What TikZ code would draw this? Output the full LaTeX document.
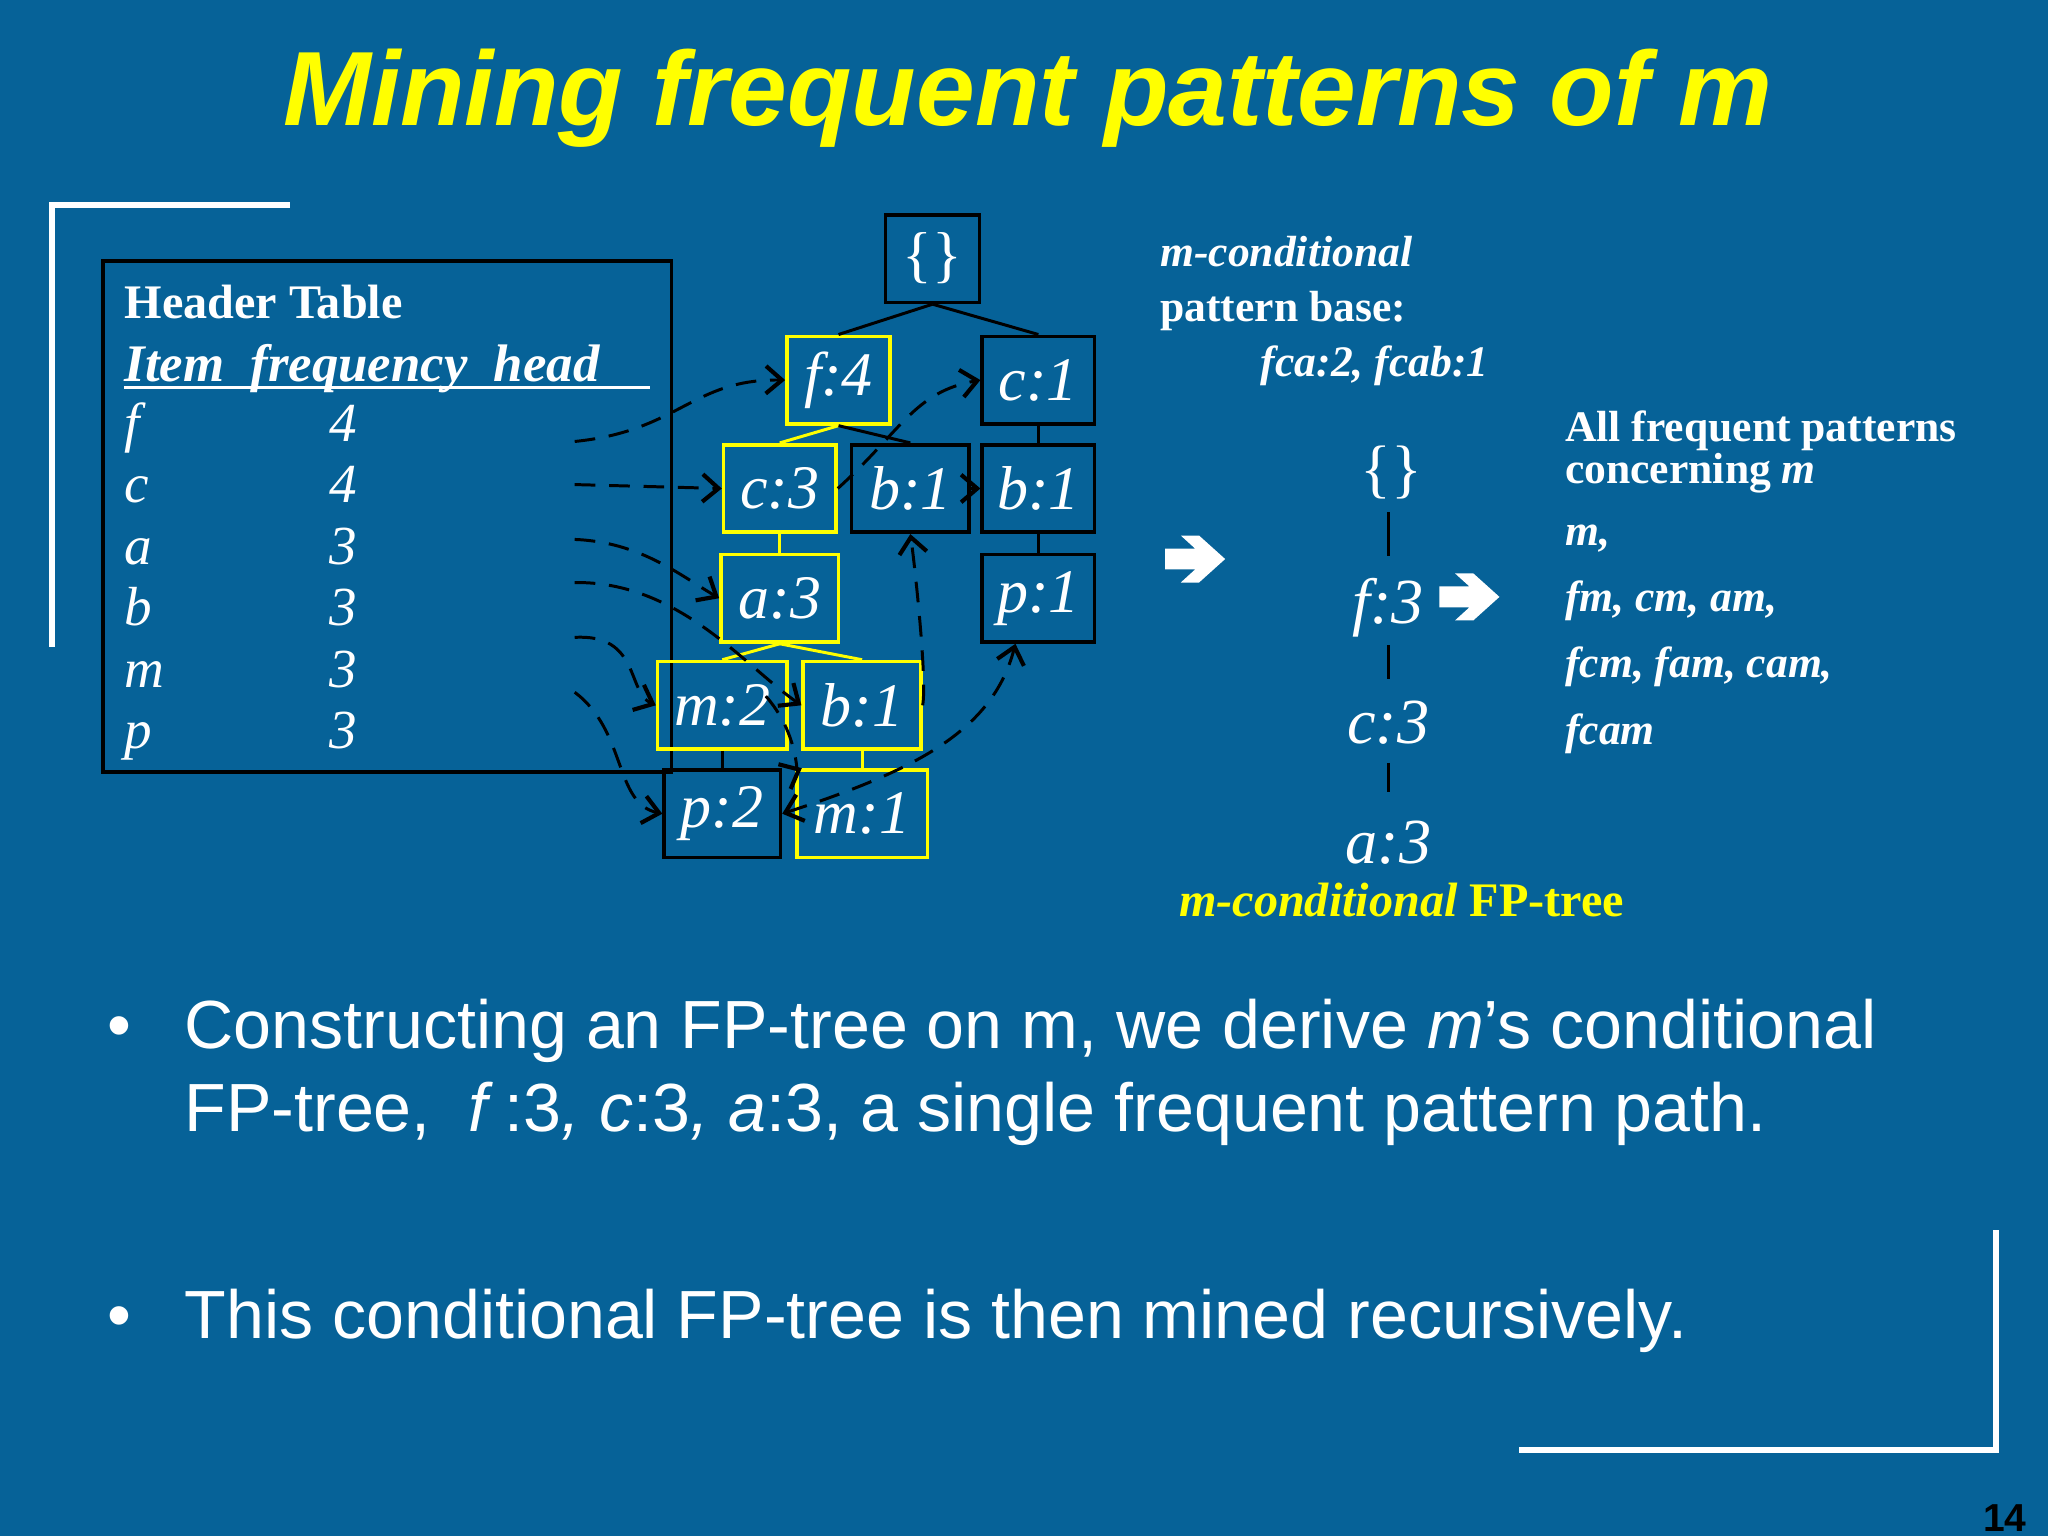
\documentclass[tikz,border=0pt]{standalone}
\usepackage{fontspec}
\setmainfont{Liberation Serif}
\setsansfont{Liberation Sans}
\usetikzlibrary{arrows.meta}
\definecolor{bg}{RGB}{6,98,152}
\definecolor{yel}{RGB}{255,255,0}
\begin{document}
\begin{tikzpicture}[x=0.02cm,y=-0.02cm,
  tn/.style={draw=#1,line width=1.6pt,minimum width=1.72cm,minimum height=1.34cm,inner sep=0pt,text=white,font=\fontsize{27}{27}\selectfont\itshape},
  ye/.style={yel,line width=1.3pt},
  bk/.style={black,line width=1.3pt},
  lk/.style={black,dashed,dash pattern=on 9pt off 6pt,line width=1.3pt,-{Straight Barb[length=7pt,width=12pt,line width=1.8pt]}},
  ht/.style={anchor=base west,text=white,font=\fontsize{24}{24}\selectfont\itshape,inner sep=0pt},
  rt/.style={anchor=base west,text=white,font=\fontsize{19}{19}\selectfont\bfseries,inner sep=0pt},
  ct/.style={text=white,font=\fontsize{28}{28}\selectfont\itshape,inner sep=0pt},
  bt/.style={anchor=base west,text=white,font=\sffamily\fontsize{29.7}{29.7}\selectfont,inner sep=0pt},
  corner/.style={white,line width=2.6pt}]
\fill[bg] (0,0) rectangle (1568,1176);
\useasboundingbox (0,0) rectangle (1568,1176);
\node[text=yel,font=\sffamily\bfseries\itshape\fontsize{46}{46}\selectfont] (title) at (787,75) {Mining frequent patterns of m};
\draw[corner] (222,157) -- (40,157) -- (40,495);
\draw[corner] (1163,1110) -- (1528,1110) -- (1528,942);
% header table
\draw[black,line width=1.6pt] (79,200) rectangle (514,591);
\node[anchor=base west,text=white,font=\fontsize{21}{21}\selectfont\bfseries,inner sep=0pt] (hdr) at (95,244) {Header Table};
\node[ht,font=\fontsize{23}{23}\selectfont\bfseries\itshape] (cols) at (95,292) {Item\ \ frequency\ \ head\ };
\draw[white,line width=1.3pt] (95,297) -- (498,297);
\foreach \n/\it/\f/\y/\ay in {rf/f/4/338/338, rc/c/4/385/371, ra/a/3/432/413, rb/b/3/479/446, rm/m/3/526/488, rp/p/3/573/530}{
  \node[ht] (\n i) at (95,\y) {\it};
  \node[ht] (\n f) at (252,\y) {\f};
  \coordinate (\n) at (440,\ay);
}
% tree
\node[tn=black,minimum width=1.44cm] (root) at (714,198) {\upshape\{\}};
\node[tn=yel,minimum width=1.58cm] (f4) at (642,291) {f:4};
\node[tn=black] (c1) at (795,291) {c:1};
\node[tn=yel] (c3) at (597,374) {c:3};
\node[tn=black,minimum width=1.8cm] (b1a) at (697,374) {b:1};
\node[tn=black] (b1b) at (795,374) {b:1};
\node[tn=yel,minimum width=1.8cm] (a3) at (597,458) {a:3};
\node[tn=black] (p1) at (795,458) {p:1};
\node[tn=yel,minimum width=1.98cm] (m2) at (553,540) {m:2};
\node[tn=yel,minimum width=1.8cm] (b1c) at (660,540) {b:1};
\node[tn=black,minimum width=1.78cm] (p2) at (553,623) {p:2};
\node[tn=yel,minimum width=2cm] (m1) at (660,623) {m:1};
\draw[bk] (root.south) -- (f4.north);
\draw[bk] (root.south) -- (c1.north);
\draw[ye] (f4.south) -- (c3.north);
\draw[bk] (f4.south) -- (b1a.north);
\draw[bk] (c1.south) -- (b1b.north);
\draw[ye] (c3.south) -- (a3.north);
\draw[bk] (b1b.south) -- (p1.north);
\draw[ye] (a3.south) -- (m2.north);
\draw[ye] (a3.south) -- (b1c.north);
\draw[bk] (m2.south) -- (p2.north);
\draw[ye] (b1c.south) -- (m1.north);
% node links
\draw[lk] (rf) .. controls (520,330) and (530,290) .. (f4.west);
\draw[lk] (rc) -- (c3.west);
\draw[lk] (ra) .. controls (490,415) and (520,440) .. (a3.west);
\draw[lk] (rb) .. controls (520,445) and (570,510) .. (b1c.west);
\draw[lk] (rm) .. controls (490,485) and (480,530) .. (m2.west);
\draw[lk] (rp) .. controls (480,560) and (470,615) .. (p2.west);
\draw[lk] (c3.east) .. controls (690,330) and (700,300) .. (c1.west);
\draw[lk] (b1a.east) -- (b1b.west);
\draw[lk] (b1c.east) .. controls (710,520) and (700,430) .. (b1a.south);
\draw[lk] ([xshift=-10,yshift=4]m2.east) .. controls (610,560) and (610,590) .. ([xshift=3]m1.north west);
\draw[lk,{Straight Barb[length=7pt,width=12pt,line width=1.8pt]}-{Straight Barb[length=7pt,width=12pt,line width=1.8pt]}] (p2.east) .. controls (700,590) and (760,560) .. ([xshift=-10]p1.south);
% right side
\node[rt,font=\fontsize{19}{19}\selectfont\bfseries\itshape] (mc) at (888,204) {m-conditional};
\node[rt] (pb) at (888,246) {pattern base:};
\node[rt,font=\fontsize{19}{19}\selectfont\bfseries\itshape] (fca) at (965,288) {fca:2, fcab:1};
\fill[white] (892,420) -- (915,420) -- (904,410) -- (918,410) -- (938,428) -- (918,446) -- (904,446) -- (915,436) -- (892,436) -- cycle;
\fill[white] (1102,449) -- (1125,449) -- (1114,439) -- (1128,439) -- (1148,457) -- (1128,475) -- (1114,475) -- (1125,465) -- (1102,465) -- cycle;
\node[ct] (cr) at (1065,362) {\upshape\{\}};
\node[ct] (cf) at (1063,465) {f:3};
\node[ct] (cc) at (1063,553) {c:3};
\node[ct] (ca) at (1063,645) {a:3};
\draw[bk] (1063,392) -- (1063,426);
\draw[bk] (1063,494) -- (1063,520);
\draw[bk] (1063,584) -- (1063,606);
\node[anchor=base,text=yel,font=\fontsize{21}{21}\selectfont\bfseries,inner sep=0pt] (cft) at (1073,702) {\itshape m-conditional\upshape\ FP-tree};
\node[rt,align=left,anchor=north west,font=\fontsize{19}{17}\selectfont\bfseries] (afp) at (1198,314) {All frequent patterns\\concerning \itshape m};
\node[rt,font=\fontsize{19}{19}\selectfont\bfseries\itshape] (p1t) at (1198,418) {m,};
\node[rt,font=\fontsize{19}{19}\selectfont\bfseries\itshape] (p2t) at (1198,468) {fm, cm, am,};
\node[rt,font=\fontsize{19}{19}\selectfont\bfseries\itshape] (p3t) at (1198,519) {fcm, fam, cam,};
\node[rt,font=\fontsize{19}{19}\selectfont\bfseries\itshape] (p4t) at (1198,570) {fcam};
% bullets
\node[bt] (b1dot) at (82,803) {•};
\node[bt] (l1) at (141,803) {Constructing an FP-tree on m, we derive \textit{m}’s conditional};
\node[bt] (l2) at (141,866) {FP-tree,\ \ \textit{f}\,:3\textit{, c}:3\textit{, a}:3, a single frequent pattern path.};
\node[bt] (b2dot) at (82,1025) {•};
\node[bt] (l3) at (141,1025) {This conditional FP-tree is then mined recursively.};
\node[font=\sffamily\bfseries\fontsize{17}{17}\selectfont,text=black,inner sep=0pt] (pg) at (1535,1162) {14};
\end{tikzpicture}
\end{document}
